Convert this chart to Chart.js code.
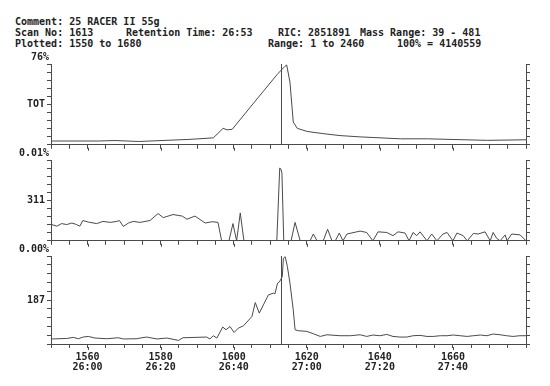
<!DOCTYPE html>
<html>
<head>
<meta charset="utf-8">
<script src="https://cdn.jsdelivr.net/npm/chart.js"></script>
<style>
body { margin: 0; background: #fff; }
#wrap { position: relative; width: 550px; height: 386px; overflow: hidden; }
.hd { position: absolute; font: bold 10px 'DejaVu Sans Mono', monospace; color: #222; line-height: 10px; white-space: pre; }
canvas { position: absolute; left: 0; }
</style>
</head>
<body>
<div id="wrap">
  <div class="hd" style="left:15px;top:17px">Comment: 25 RACER II 55g</div>
  <div class="hd" style="left:15px;top:28px">Scan No: 1613</div>
  <div class="hd" style="left:126px;top:28px">Retention Time: 26:53</div>
  <div class="hd" style="left:278px;top:28px">RIC: 2851891</div>
  <div class="hd" style="left:360px;top:28px">Mass Range: 39 - 481</div>
  <div class="hd" style="left:15px;top:39px">Plotted: 1550 to 1680</div>
  <div class="hd" style="left:268px;top:39px">Range: 1 to 2460</div>
  <div class="hd" style="left:397px;top:39px">100% = 4140559</div>
  <canvas id="c1" width="550" height="105" style="top:50px"></canvas>
  <canvas id="c2" width="550" height="105" style="top:146px"></canvas>
  <canvas id="c3" width="550" height="142" style="top:242px"></canvas>
</div>
<script>
// x axis labels
var tickScans = [1560, 1580, 1600, 1620, 1640, 1660];
var tickTimes = ["26:00", "26:20", "26:40", "27:00", "27:20", "27:40"];
var markerScan = 1613;

// TOT trace (percent of panel height)
var totScans = [1550, 1563, 1567.5, 1574, 1588, 1594.4, 1595.7, 1597.1, 1598.2, 1599.6, 1605.9, 1611.9, 1613.3, 1614, 1614.5, 1615.4, 1616.3, 1617.4, 1620.1, 1624.5, 1629.1, 1634.6, 1645.6, 1653, 1669.4, 1680];
var totValues = [4.7, 4.7, 5.3, 4.1, 6.7, 8.6, 14.1, 20.4, 18.5, 19.2, 54.1, 87.1, 93.8, 97, 98.8, 77.6, 28.2, 20.4, 16.5, 13.8, 11.4, 9.8, 7.4, 7.4, 5.5, 6.2];

// mass 311
var m311Scans = [1550.2, 1551.6, 1552.9, 1554.3, 1555.7, 1557, 1557.9, 1558.7, 1560.2, 1562.5, 1564.2, 1566.2, 1568, 1568.7, 1569.8, 1571.2, 1572.5, 1574.4, 1577.1, 1579.3, 1580.7, 1583.4, 1585.9, 1587.2, 1589.4, 1592.2, 1594.1, 1595.7, 1596.7, 1598.7, 1599.8, 1600.8, 1601.8, 1602.8, 1611.8, 1612.6, 1612.9, 1613.2, 1613.7, 1615.7, 1616.8, 1618.2, 1620.9, 1621.8, 1622.8, 1624.5, 1625.7, 1626.9, 1627.8, 1628.9, 1629.9, 1631, 1634.6, 1636.4, 1638.1, 1639.5, 1641.9, 1643.6, 1645, 1646.9, 1648, 1649.1, 1650.1, 1651, 1652.9, 1654.2, 1655.6, 1657.3, 1658.4, 1660, 1661.1, 1662.8, 1663.9, 1665.6, 1666.9, 1668.8, 1670.2, 1671, 1672, 1672.9, 1674.3, 1674.8, 1676.1, 1678.4, 1680];
var m311Values = [20.1, 18.1, 21.3, 20.1, 22, 20.1, 18.1, 25.1, 23.2, 21.3, 24, 22.8, 24, 25.1, 17.8, 22, 24, 22.8, 25.1, 33.7, 28.7, 32.5, 30.6, 26.7, 30.6, 22, 23.6, 22.8, 0, 0, 21.3, 0, 34.5, 0, 0, 90, 89, 84, 0, 0, 22.8, 0, 0, 8.4, 0, 0, 14.3, 0, 0, 9.6, 0, 8.4, 12, 10.3, 0, 11.1, 10.3, 6.4, 11.1, 9.6, 0, 10.3, 6.4, 11.1, 0, 8.4, 0, 8.4, 10.3, 0, 9.6, 6.4, 0, 9.1, 8.4, 11.1, 0, 10.3, 2.9, 0, 7.3, 0, 8.4, 7.3, 0];

// mass 187
var m187Scans = [1550, 1554.3, 1556.1, 1557.5, 1558.8, 1560.2, 1562, 1565.3, 1568.4, 1569.8, 1573.5, 1574.4, 1576.2, 1579, 1581.7, 1584.9, 1586.1, 1592.6, 1593.5, 1594.4, 1595.4, 1597, 1597.9, 1599, 1600.1, 1601.3, 1602.7, 1605, 1605.9, 1607, 1609.5, 1610.9, 1611.3, 1612, 1612.5, 1613.3, 1613.6, 1614.1, 1614.7, 1615.4, 1616.3, 1616.8, 1617.7, 1620, 1621.8, 1623.7, 1625.5, 1629.1, 1631.9, 1634.6, 1636.4, 1638.1, 1640, 1641.9, 1643.6, 1645.5, 1647.4, 1649.1, 1651, 1652.9, 1654.6, 1656.6, 1658.4, 1660.1, 1662, 1663.9, 1665.6, 1667.5, 1669.3, 1671, 1672.9, 1674.7, 1676.4, 1678.4, 1680];
var m187Values = [5.7, 6.3, 7.5, 6, 7.9, 8.6, 6.8, 6, 7.1, 5.7, 6, 6.8, 7.9, 5.7, 6.8, 4.1, 7.1, 7.9, 5.7, 9.4, 6.8, 19.3, 16.2, 19.9, 13.1, 18.1, 20.7, 31.3, 47.1, 35.1, 55.8, 57.8, 57, 69.1, 70.4, 76.6, 97.4, 99.2, 87.9, 69.1, 38.8, 16.2, 15.1, 14.3, 11.7, 8.6, 10.5, 9.4, 9.4, 10.5, 8.6, 10.2, 9.4, 10.9, 8.6, 7.9, 7.9, 9.4, 9.8, 8.6, 8.6, 9.4, 9.4, 10.2, 9.4, 8.6, 9.4, 10.2, 9.4, 11.3, 10.5, 9.4, 8.6, 9.4, 9.4];

var lineColor = "#4a4a4a";
var textColor = "#222";
var monoFont = { family: "'DejaVu Sans Mono', monospace", size: 10, weight: "bold", lineHeight: 1.0 };

// scale label above each panel, the scan marker line, longer major x ticks
var panelLabels = {
    id: "panelLabels",
    afterDraw: function (chart, args, opts) {
        var ctx = chart.ctx;
        var area = chart.chartArea;
        var xs = chart.scales.x;
        ctx.save();
        ctx.strokeStyle = lineColor;
        ctx.lineWidth = 1;
        if (opts.marker) {
            var x = Math.round(xs.getPixelForValue(markerScan)) + 0.5;
            ctx.beginPath();
            ctx.moveTo(x, area.top);
            ctx.lineTo(x, area.bottom);
            ctx.stroke();
        }
        ctx.beginPath();
        tickScans.forEach(function (s) {
            var tx = Math.round(xs.getPixelForValue(s)) + 0.5;
            ctx.moveTo(tx, area.bottom + 3);
            ctx.lineTo(tx, area.bottom + 6);
        });
        ctx.stroke();
        ctx.font = "bold 10px 'DejaVu Sans Mono', monospace";
        ctx.fillStyle = textColor;
        ctx.textAlign = "right";
        ctx.textBaseline = "middle";
        ctx.fillText(opts.text, area.left - 2, area.top - 7);
        ctx.restore();
    },
};

function makePanel(id, scans, values, scaleText, midLabel, marker, showX) {
    var points = scans.map(function (s, i) {
        return { x: s, y: values[i] };
    });
    var xHeight = showX ? 40 : 6;
    return new Chart(document.getElementById(id), {
        type: "line",
        data: {
            datasets: [
                {
                    data: points,
                    borderColor: lineColor,
                    borderWidth: 1,
                    pointRadius: 0,
                    tension: 0,
                    fill: false,
                },
            ],
        },
        options: {
            responsive: false,
            animation: false,
            events: [],
            layout: { padding: { top: 14, left: 0, right: 0, bottom: 0 } },
            plugins: {
                legend: { display: false },
                tooltip: { enabled: false },
                panelLabels: { text: scaleText, marker: marker },
            },
            scales: {
                x: {
                    type: "linear",
                    min: 1550,
                    max: 1680,
                    grid: { drawOnChartArea: false, tickLength: 4, color: lineColor },
                    border: { color: lineColor },
                    ticks: {
                        stepSize: 5,
                        autoSkip: false,
                        maxRotation: 0,
                        padding: 4,
                        font: monoFont,
                        color: textColor,
                        callback: function (v) {
                            var i = tickScans.indexOf(v);
                            return showX && i >= 0 ? [String(v), tickTimes[i]] : "";
                        },
                    },
                    afterFit: function (s) {
                        s.height = xHeight;
                    },
                },
                y: {
                    min: 0,
                    max: 100,
                    grid: { drawOnChartArea: false, tickLength: 4, color: lineColor },
                    border: { color: lineColor },
                    ticks: {
                        stepSize: 10,
                        autoSkip: false,
                        padding: 2,
                        font: monoFont,
                        color: textColor,
                        callback: function (v) {
                            return v === 50 ? midLabel : "";
                        },
                    },
                    afterFit: function (s) {
                        s.width = 51;
                    },
                },
                y2: {
                    position: "right",
                    min: 0,
                    max: 100,
                    grid: { drawOnChartArea: false, tickLength: 4, color: lineColor },
                    border: { color: lineColor },
                    ticks: {
                        stepSize: 10,
                        autoSkip: false,
                        callback: function () {
                            return "";
                        },
                    },
                    afterFit: function (s) {
                        s.width = 24;
                    },
                },
            },
        },
        plugins: [panelLabels],
    });
}

makePanel("c1", totScans, totValues, "76%", "TOT", true, false);
makePanel("c2", m311Scans, m311Values, "0.01%", "311", false, false);
makePanel("c3", m187Scans, m187Values, "0.00%", "187", true, true);
</script>
</body>
</html>
